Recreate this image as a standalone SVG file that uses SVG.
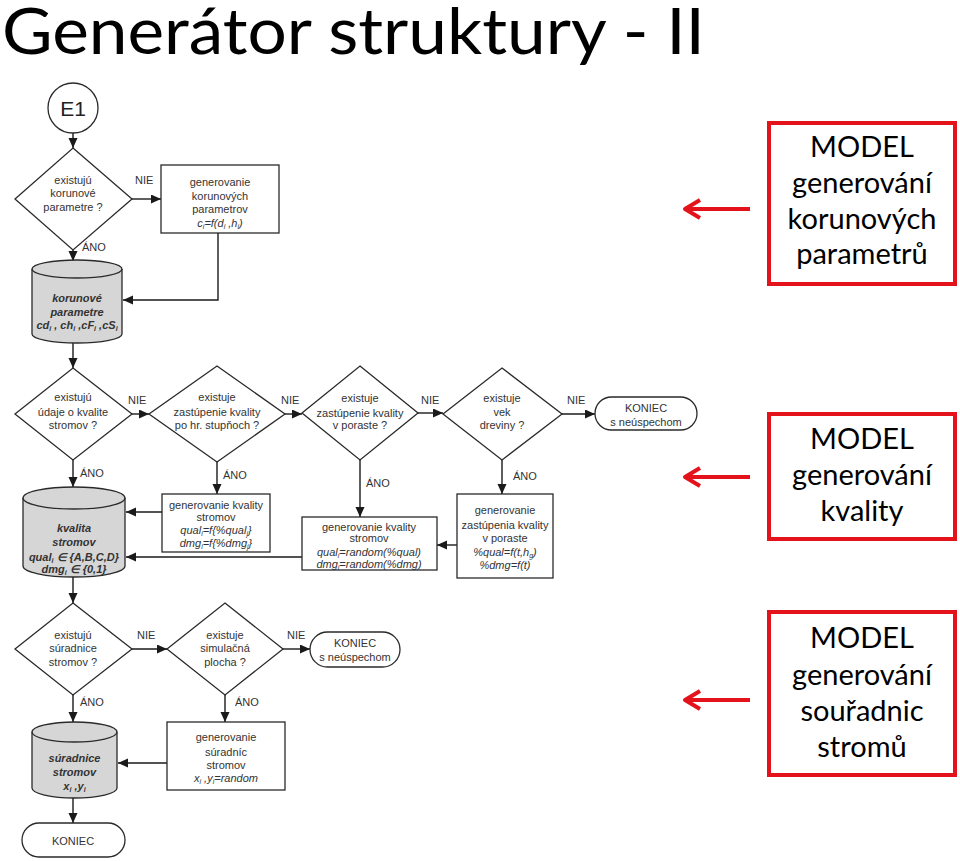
<svg xmlns="http://www.w3.org/2000/svg" width="960" height="861" viewBox="0 0 960 861">
<style>
.title{font-family:Lato,"Open Sans","Liberation Sans",sans-serif;font-size:63px;fill:#000}
.shp{fill:#fff;stroke:#2a2a2a;stroke-width:1.3}
.cyl{fill:#d6d6d6;stroke:#2a2a2a;stroke-width:1.3}
.ln{fill:none;stroke:#1a1a1a;stroke-width:1.4}
.t{font-family:"Liberation Sans",Arial,sans-serif;font-size:11px;fill:#333;text-anchor:middle}
.i{font-style:italic}
.b{font-weight:bold;font-style:italic}
.lbl{font-family:"Liberation Sans",Arial,sans-serif;font-size:11px;fill:#333}
.e1{font-family:"Liberation Sans",Arial,sans-serif;font-size:21px;fill:#222;text-anchor:middle}
.rb{fill:#fff;stroke:#e3121b;stroke-width:4}
.rt{font-family:Lato,"Open Sans","Liberation Sans",sans-serif;font-size:29px;fill:#000;text-anchor:middle}
.ra{fill:none;stroke:#e3121b;stroke-width:4;stroke-linejoin:round}
</style>
<defs>
<marker id="ah" markerUnits="userSpaceOnUse" markerWidth="11" markerHeight="10" refX="10" refY="4.5" orient="auto">
<path d="M0,0 L10,4.5 L0,9 Z" fill="#1a1a1a"/>
</marker>
</defs>

<text class="title" x="2" y="54" textLength="703" lengthAdjust="spacingAndGlyphs">Generátor struktury - II</text>

<g id="connectors">
<line class="ln" x1="73" y1="133" x2="73" y2="148" marker-end="url(#ah)"/>
<line class="ln" x1="132" y1="199" x2="161" y2="199" marker-end="url(#ah)"/>
<polyline class="ln" points="218,233 218,300 123,300" marker-end="url(#ah)"/>
<line class="ln" x1="73" y1="250" x2="73" y2="261" marker-end="url(#ah)"/>
<line class="ln" x1="73" y1="343" x2="73" y2="368" marker-end="url(#ah)"/>
<line class="ln" x1="132" y1="414" x2="149" y2="414" marker-end="url(#ah)"/>
<line class="ln" x1="285" y1="414" x2="302" y2="414" marker-end="url(#ah)"/>
<line class="ln" x1="418" y1="413" x2="443" y2="413" marker-end="url(#ah)"/>
<line class="ln" x1="562" y1="414" x2="595" y2="414" marker-end="url(#ah)"/>
<line class="ln" x1="73" y1="460" x2="73" y2="487" marker-end="url(#ah)"/>
<line class="ln" x1="217" y1="462" x2="217" y2="494" marker-end="url(#ah)"/>
<line class="ln" x1="162" y1="512" x2="126" y2="512" marker-end="url(#ah)"/>
<line class="ln" x1="360" y1="460" x2="360" y2="517" marker-end="url(#ah)"/>
<line class="ln" x1="302" y1="557" x2="126" y2="557" marker-end="url(#ah)"/>
<line class="ln" x1="502" y1="460" x2="502" y2="494" marker-end="url(#ah)"/>
<line class="ln" x1="457" y1="545" x2="437" y2="545" marker-end="url(#ah)"/>
<line class="ln" x1="73" y1="577" x2="73" y2="603" marker-end="url(#ah)"/>
<line class="ln" x1="132" y1="649" x2="167" y2="649" marker-end="url(#ah)"/>
<line class="ln" x1="283" y1="649" x2="310" y2="649" marker-end="url(#ah)"/>
<line class="ln" x1="225" y1="695" x2="225" y2="722" marker-end="url(#ah)"/>
<line class="ln" x1="167" y1="763" x2="118" y2="763" marker-end="url(#ah)"/>
<line class="ln" x1="73" y1="695" x2="73" y2="722" marker-end="url(#ah)"/>
<line class="ln" x1="73" y1="798" x2="73" y2="823" marker-end="url(#ah)"/>
<text class="lbl" x="135" y="184">NIE</text>
<text class="lbl" x="82" y="251">ÁNO</text>
<text class="lbl" x="128" y="404">NIE</text>
<text class="lbl" x="281" y="404">NIE</text>
<text class="lbl" x="421" y="404">NIE</text>
<text class="lbl" x="567" y="404">NIE</text>
<text class="lbl" x="80" y="477">ÁNO</text>
<text class="lbl" x="223" y="479">ÁNO</text>
<text class="lbl" x="366" y="487">ÁNO</text>
<text class="lbl" x="513" y="480">ÁNO</text>
<text class="lbl" x="137" y="639">NIE</text>
<text class="lbl" x="287" y="639">NIE</text>
<text class="lbl" x="80" y="706">ÁNO</text>
<text class="lbl" x="235" y="706">ÁNO</text>
</g>

<g id="e1">
<circle class="shp" cx="73" cy="108" r="25"/>
<text class="e1" x="73" y="116">E1</text>
</g>

<g id="d1">
<polygon class="shp" points="73,148 132,199 73,250 15,199"/>
<text class="t" x="73" y="184">existujú</text>
<text class="t" x="73" y="197">korunové</text>
<text class="t" x="73" y="211">parametre ?</text>
</g>

<g id="box1">
<rect class="shp" x="161" y="165" width="118" height="68"/>
<text class="t" x="220" y="186">generovanie</text>
<text class="t" x="220" y="200">korunových</text>
<text class="t" x="220" y="213">parametrov</text>
<text class="t i" x="220" y="227">c<tspan font-size="7" dy="2">i</tspan><tspan dy="-2">=f(d</tspan><tspan font-size="7" dy="2">i</tspan><tspan dy="-2"> ,h</tspan><tspan font-size="7" dy="2">i</tspan><tspan dy="-2">)</tspan></text>
</g>

<g id="cyl1">
<path class="cyl" d="M32,269 A45,9 0 0,1 122,269 L122,334 A45,9 0 0,1 32,334 Z"/>
<path d="M32,269 A45,9 0 0,0 122,269" fill="none" stroke="#2a2a2a" stroke-width="1.3"/>
<text class="t b" x="77" y="302">korunové</text>
<text class="t b" x="77" y="316">parametre</text>
<text class="t b" x="77" y="329">cd<tspan font-size="7" dy="2">i</tspan><tspan dy="-2"> , ch</tspan><tspan font-size="7" dy="2">i</tspan><tspan dy="-2"> ,cF</tspan><tspan font-size="7" dy="2">i</tspan><tspan dy="-2"> ,cS</tspan><tspan font-size="7" dy="2">i</tspan></text>
</g>

<g id="d2">
<polygon class="shp" points="73,368 132,414 73,460 15,414"/>
<text class="t" x="73" y="401">existujú</text>
<text class="t" x="73" y="416">údaje o kvalite</text>
<text class="t" x="73" y="429">stromov ?</text>
</g>

<g id="d3">
<polygon class="shp" points="217,366 285,414 217,462 149,414"/>
<text class="t" x="217" y="401">existuje</text>
<text class="t" x="217" y="416">zastúpenie kvality</text>
<text class="t" x="217" y="429">po hr. stupňoch ?</text>
</g>

<g id="d4">
<polygon class="shp" points="360,366 418,413 360,460 302,413"/>
<text class="t" x="360" y="402">existuje</text>
<text class="t" x="360" y="417">zastúpenie kvality</text>
<text class="t" x="360" y="429">v poraste ?</text>
</g>

<g id="d5">
<polygon class="shp" points="502,368 562,414 502,460 443,414"/>
<text class="t" x="502" y="402">existuje</text>
<text class="t" x="502" y="416">vek</text>
<text class="t" x="502" y="429">dreviny ?</text>
</g>

<g id="term1">
<rect class="shp" x="595" y="397" width="102" height="33" rx="16.5"/>
<text class="t" x="646" y="412">KONIEC</text>
<text class="t" x="646" y="426">s neúspechom</text>
</g>

<g id="box2">
<rect class="shp" x="162" y="494" width="108" height="58"/>
<text class="t" x="216" y="509">generovanie kvality</text>
<text class="t" x="216" y="521">stromov</text>
<text class="t i" x="216" y="534">qual<tspan font-size="7" dy="2">i</tspan><tspan dy="-2">=f{%qual</tspan><tspan font-size="7" dy="2">j</tspan><tspan dy="-2">}</tspan></text>
<text class="t i" x="216" y="547">dmg<tspan font-size="7" dy="2">i</tspan><tspan dy="-2">=f{%dmg</tspan><tspan font-size="7" dy="2">j</tspan><tspan dy="-2">}</tspan></text>
</g>

<g id="cyl2">
<path class="cyl" d="M23,498 A51,11 0 0,1 125,498 L125,566 A51,11 0 0,1 23,566 Z"/>
<path d="M23,498 A51,11 0 0,0 125,498" fill="none" stroke="#2a2a2a" stroke-width="1.3"/>
<text class="t b" x="74" y="532">kvalita</text>
<text class="t b" x="74" y="546">stromov</text>
<text class="t b" x="74" y="561">qual<tspan font-size="7" dy="2">i</tspan><tspan dy="-2"> ∈ {A,B,C,D}</tspan></text>
<text class="t b" x="74" y="573">dmg<tspan font-size="7" dy="2">i</tspan><tspan dy="-2"> ∈ {0,1}</tspan></text>
</g>

<g id="box4">
<rect class="shp" x="302" y="517" width="135" height="53"/>
<text class="t" x="369" y="531">generovanie kvality</text>
<text class="t" x="369" y="542">stromov</text>
<text class="t i" x="369" y="556">qual<tspan font-size="7" dy="2">i</tspan><tspan dy="-2">=random(%qual)</tspan></text>
<text class="t i" x="369" y="568">dmg<tspan font-size="7" dy="2">i</tspan><tspan dy="-2">=random(%dmg)</tspan></text>
</g>

<g id="box5">
<rect class="shp" x="457" y="494" width="96" height="84"/>
<text class="t" x="505" y="514">generovanie</text>
<text class="t" x="505" y="529">zastúpenia kvality</text>
<text class="t" x="505" y="542">v poraste</text>
<text class="t i" x="505" y="556">%qual=f(t,h<tspan font-size="7" dy="2">g</tspan><tspan dy="-2">)</tspan></text>
<text class="t i" x="505" y="569">%dmg=f(t)</text>
</g>

<g id="d6">
<polygon class="shp" points="73,603 132,649 73,695 15,649"/>
<text class="t" x="73" y="639">existujú</text>
<text class="t" x="73" y="652">súradnice</text>
<text class="t" x="73" y="666">stromov ?</text>
</g>

<g id="d7">
<polygon class="shp" points="225,603 283,649 225,695 167,649"/>
<text class="t" x="225" y="639">existuje</text>
<text class="t" x="225" y="652">simulačná</text>
<text class="t" x="225" y="666">plocha ?</text>
</g>

<g id="term2">
<rect class="shp" x="310" y="632" width="90" height="35" rx="17.5"/>
<text class="t" x="355" y="647">KONIEC</text>
<text class="t" x="355" y="661">s neúspechom</text>
</g>

<g id="box7">
<rect class="shp" x="167" y="722" width="118" height="68"/>
<text class="t" x="226" y="741">generovanie</text>
<text class="t" x="226" y="756">súradníc</text>
<text class="t" x="226" y="769">stromov</text>
<text class="t i" x="226" y="782">x<tspan font-size="7" dy="2">i</tspan><tspan dy="-2"> ,y</tspan><tspan font-size="7" dy="2">i</tspan><tspan dy="-2">=random</tspan></text>
</g>

<g id="cyl3">
<path class="cyl" d="M32,732 A42.5,10 0 0,1 117,732 L117,788 A42.5,10 0 0,1 32,788 Z"/>
<path d="M32,732 A42.5,10 0 0,0 117,732" fill="none" stroke="#2a2a2a" stroke-width="1.3"/>
<text class="t b" x="74.5" y="762">súradnice</text>
<text class="t b" x="74.5" y="776">stromov</text>
<text class="t b" x="74.5" y="790">x<tspan font-size="7" dy="2">i</tspan><tspan dy="-2"> ,y</tspan><tspan font-size="7" dy="2">i</tspan></text>
</g>

<g id="term3">
<rect class="shp" x="22" y="823" width="103" height="34" rx="17"/>
<text class="t" x="73" y="845">KONIEC</text>
</g>

<g id="model1">
<rect class="rb" x="769" y="123" width="186" height="161"/>
<text class="rt" x="862" y="157">MODEL</text>
<text class="rt" x="862" y="193">generování</text>
<text class="rt" x="862" y="229">korunových</text>
<text class="rt" x="862" y="264">parametrů</text>
</g>
<g id="model2">
<rect class="rb" x="769" y="414" width="186" height="125"/>
<text class="rt" x="862" y="449">MODEL</text>
<text class="rt" x="862" y="485">generování</text>
<text class="rt" x="862" y="521">kvality</text>
</g>
<g id="model3">
<rect class="rb" x="769" y="612" width="186" height="163"/>
<text class="rt" x="862" y="648">MODEL</text>
<text class="rt" x="862" y="685">generování</text>
<text class="rt" x="862" y="721">souřadnic</text>
<text class="rt" x="862" y="757">stromů</text>
</g>

<g id="red-arrows">
<path class="ra" d="M750,209 L686,209 M700,200 L685,209 L700,218"/>
<path class="ra" d="M750,477 L686,477 M700,468 L685,477 L700,486"/>
<path class="ra" d="M750,700 L686,700 M700,691 L685,700 L700,709"/>
</g>
</svg>
